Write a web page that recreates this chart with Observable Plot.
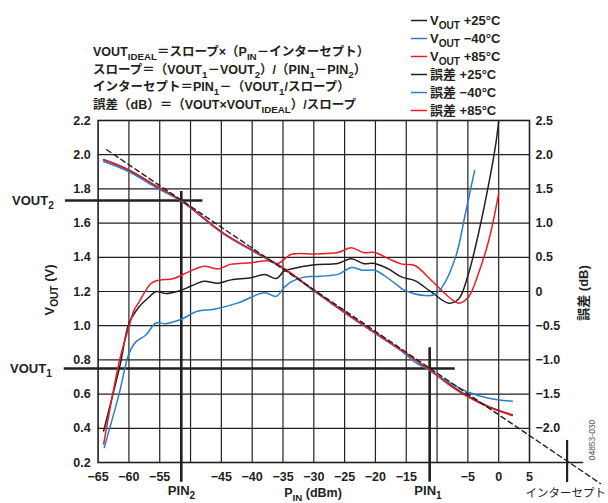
<!DOCTYPE html>
<html><head><meta charset="utf-8">
<script src="https://cdn.jsdelivr.net/npm/d3@7"></script>
<script src="https://cdn.jsdelivr.net/npm/@observablehq/plot@0.6"></script>
<style>
body{margin:0;background:#fff;}
#chart svg{display:block;}
</style>
</head><body><div id="chart"></div>
<script>
// ---- data ----
const xTicks = [-65,-60,-55,-45,-40,-35,-30,-25,-20,-15,-5,0,5];
const xGrid = [-60,-55,-50,-45,-40,-35,-30,-25,-20,-15,-10,-5,0];
const vTicks = [0.2,0.4,0.6,0.8,1.0,1.2,1.4,1.6,1.8,2.0,2.2];
const dBTicks = [2.5,2.0,1.5,1.0,0.5,0,-0.5,-1.0,-1.5,-2.0];
const dBLabels = ["2.5","2.0","1.5","1.0","0.5","0","−0.5","−1.0","−1.5","−2.0"];

// VOUT (left axis, V) : [PIN dBm, V]
const vout25 = [[-64.1,1.97],[-60.3,1.914],[-55.2,1.808],[-51.5,1.731],[-44.6,1.538],[-39.1,1.423],[-34.8,1.333],[-29.9,1.204],[-25,1.078],[-20.6,0.971],[-15.7,0.854],[-11.1,0.738],[-8.1,0.66],[-4.9,0.586],[-1.6,0.527],[2.2,0.479]];
const voutM40 = [[-64.1,1.96],[-60.3,1.905],[-55.2,1.80],[-51.5,1.728],[-44.6,1.535],[-39.1,1.42],[-34.8,1.33],[-29.9,1.20],[-25,1.075],[-20.6,0.968],[-15.7,0.85],[-13.6,0.787],[-11.1,0.738],[-8.1,0.67],[-4.9,0.611],[-1.6,0.576],[2.2,0.558]];
const vout85 = [[-64.1,1.972],[-60.3,1.917],[-55.2,1.81],[-51.5,1.732],[-44.6,1.54],[-39.1,1.424],[-34.8,1.335],[-29.9,1.205],[-25,1.079],[-20.6,0.972],[-15.7,0.855],[-11.1,0.738],[-8.1,0.656],[-4.9,0.582],[-1.6,0.523],[2.2,0.475]];

// Error (right axis, dB) : [PIN dBm, dB]
const err25 = [[-64.1,-2.04],[-61.4,-1.06],[-60,-0.47],[-58.4,-0.23],[-56.7,-0.08],[-55.6,0.0],[-54,-0.03],[-51.6,0.015],[-49.9,0.08],[-47.8,0.15],[-45.6,0.12],[-43.4,0.17],[-40.2,0.2],[-38,0.25],[-36.1,0.19],[-34.8,0.3],[-33.7,0.33],[-29.9,0.39],[-26.1,0.41],[-23.9,0.48],[-22,0.41],[-20.1,0.41],[-17.9,0.33],[-15.7,0.21],[-13.6,0.16],[-10.9,-0.01],[-8.1,-0.17],[-6.5,-0.11],[-4.9,0.26],[-3.3,0.84],[-1.6,1.58],[-0.4,2.2],[0,2.5]];
const errM40 = [[-64,-2.28],[-61.6,-1.5],[-60,-0.91],[-58.9,-0.74],[-57.3,-0.64],[-55.6,-0.46],[-54,-0.47],[-51.6,-0.41],[-48.9,-0.29],[-46.2,-0.26],[-42.4,-0.17],[-38,-0.02],[-36.1,-0.07],[-34.8,0.06],[-33.7,0.14],[-31.6,0.21],[-29.9,0.22],[-26.1,0.25],[-23.9,0.35],[-22,0.31],[-20.1,0.31],[-17.9,0.19],[-15.7,0.04],[-15.2,0.015],[-12,-0.06],[-10.3,-0.04],[-9.2,0.06],[-7.0,0.5],[-5.4,1.14],[-3.9,1.77]];
const err85 = [[-64.1,-2.23],[-61.4,-0.96],[-60,-0.52],[-59.2,-0.28],[-58.4,-0.16],[-56.5,0.11],[-55.4,0.16],[-52.7,0.19],[-50.5,0.28],[-47.8,0.37],[-45.6,0.33],[-43.4,0.40],[-40.2,0.42],[-37.5,0.45],[-35.8,0.41],[-33.7,0.54],[-29.9,0.55],[-26.1,0.57],[-23.9,0.64],[-22,0.57],[-20.1,0.57],[-17.9,0.48],[-15.7,0.40],[-13.6,0.38],[-10.9,0.16],[-8.1,-0.08],[-6.5,-0.17],[-4.9,-0.08],[-3.3,0.26],[-1.6,0.75],[0,1.43]];

// ideal line endpoints and reference construction lines
const ideal = [[-63.6,2.029],[16.5,0.077]];
const pinMarks = [{x:-51.5,y1:0.085,y2:1.785},{x:-11.2,y1:0.085,y2:0.871}];
const voutMarks = [{y:1.732,x1:-70.3,x2:-48},{y:0.75,x1:-70.5,x2:-7.05}];
const interceptMark = [{x:11.1,y1:0.083,y2:0.329}];
const baseExt = [{y:0.2,x1:5,x2:13.8}];

// ---- styles ----
const INK = "#231f20", BLUE = "#2a7fcb", RED = "#ec1c24";
const FONT = "'Liberation Sans', Arial, 'Noto Sans CJK JP', sans-serif";
const dbToV = d => 1.2 + 0.4*d;
const dbLabel = v => { const i = dBTicks.findIndex(d => Math.abs(dbToV(d)-v) < 1e-6); return i < 0 ? "" : dBLabels[i]; };
const fmtX = d => d < 0 ? "−" + (-d) : String(d);
const toObj = a => a.map(([x,y]) => ({x,y}));
const toObjDb = a => a.map(([x,d]) => ({x,y:dbToV(d)}));

const plot = Plot.plot({
  width: 608, height: 503,
  marginLeft: 97.6, marginRight: 79, marginTop: 120, marginBottom: 41,
  style: {fontFamily: FONT, fontSize: "12.5px", fontWeight: "bold", color: INK, background: "#fff"},
  x: {domain: [-65, 5]},
  y: {domain: [0.2, 2.2]},
  marks: [
    Plot.ruleX(xGrid, {stroke: INK, strokeWidth: 1.2}),
    Plot.ruleY(vTicks, {stroke: INK, strokeWidth: 1.2}),
    Plot.frame({stroke: INK, strokeWidth: 1.6}),
    Plot.ruleY(baseExt, {y: "y", x1: "x1", x2: "x2", stroke: INK, strokeWidth: 1.6}),
    Plot.axisX({ticks: xTicks, tickFormat: fmtX, tickSize: 0, tickPadding: 10, label: null}),
    Plot.axisY({ticks: vTicks, tickFormat: d3.format(".1f"), tickSize: 0, tickPadding: 7.5, anchor: "left", label: null}),
    Plot.axisY({ticks: dBTicks.map(dbToV), tickFormat: dbLabel, tickSize: 0, tickPadding: 6, anchor: "right", label: null}),
    // construction lines
    Plot.ruleX(pinMarks, {x: "x", y1: "y1", y2: "y2", stroke: INK, strokeWidth: 2.6}),
    Plot.ruleY(voutMarks, {y: "y", x1: "x1", x2: "x2", stroke: INK, strokeWidth: 2.6}),
    Plot.ruleX(interceptMark, {x: "x", y1: "y1", y2: "y2", stroke: INK, strokeWidth: 2.2}),
    // error curves
    Plot.line(toObjDb(err25), {x: "x", y: "y", stroke: INK, strokeWidth: 1.5, curve: "catmull-rom"}),
    Plot.line(toObjDb(errM40), {x: "x", y: "y", stroke: BLUE, strokeWidth: 1.5, curve: "catmull-rom"}),
    Plot.line(toObjDb(err85), {x: "x", y: "y", stroke: RED, strokeWidth: 1.5, curve: "catmull-rom"}),
    // vout curves
    Plot.line(toObj(vout25), {x: "x", y: "y", stroke: INK, strokeWidth: 1.5, curve: "catmull-rom"}),
    Plot.line(toObj(voutM40), {x: "x", y: "y", stroke: BLUE, strokeWidth: 1.5, curve: "catmull-rom"}),
    Plot.line(toObj(vout85), {x: "x", y: "y", stroke: RED, strokeWidth: 1.5, curve: "catmull-rom"}),
    Plot.line(toObj(ideal), {x: "x", y: "y", stroke: INK, strokeWidth: 1.4, strokeDasharray: "5,3.5"})
  ]
});
document.getElementById("chart").appendChild(plot);

// ---- rich text annotations ----
const svg = d3.select(plot);
function rich(x, y, segs, o = {}) {
  const size = o.size || 12.5;
  const t = svg.append("text").attr("x", x).attr("y", y)
    .attr("font-size", size).attr("font-weight", o.weight || "bold")
    .attr("font-family", FONT).attr("fill", o.fill || INK)
    .attr("text-anchor", o.anchor || "start");
  if (o.rotate) t.attr("transform", `rotate(${o.rotate},${x},${y})`);
  let shifted = 0;
  for (const s of segs) {
    if (typeof s === "string") {
      const ts = t.append("tspan").text(s);
      if (shifted) { ts.attr("dy", -shifted); shifted = 0; }
    } else {
      const d = Math.round(size * 0.3);
      t.append("tspan").text(s.sub).attr("font-size", size * 0.78).attr("dy", d - shifted);
      shifted = d;
    }
  }
  return t;
}
// legend
const legendRows = [
  {c: INK, segs: ["V", {sub: "OUT"}, " +25°C"]},
  {c: BLUE, segs: ["V", {sub: "OUT"}, " −40°C"]},
  {c: RED, segs: ["V", {sub: "OUT"}, " +85°C"]},
  {c: INK, segs: ["誤差 +25°C"]},
  {c: BLUE, segs: ["誤差 −40°C"]},
  {c: RED, segs: ["誤差 +85°C"]}
];
legendRows.forEach((r, i) => {
  const yy = 20.5 + i * 18;
  svg.append("line").attr("x1", 411).attr("x2", 427).attr("y1", yy).attr("y2", yy).attr("stroke", r.c).attr("stroke-width", 1.5);
  rich(430, yy + 4.5, r.segs, {size: 13});
});
// formulas
rich(93, 55.5, ["VOUT", {sub: "IDEAL"}, "＝スロープ×（P", {sub: "IN"}, "－インターセプト）"]);
rich(93, 73.5, ["スロープ＝（VOUT", {sub: "1"}, "－VOUT", {sub: "2"}, "）/（PIN", {sub: "1"}, "－PIN", {sub: "2"}, "）"]);
rich(93, 91, ["インターセプト＝PIN", {sub: "1"}, "－（VOUT", {sub: "1"}, "/スロープ）"]);
rich(93, 108.5, ["誤差（dB）＝（VOUT×VOUT", {sub: "IDEAL"}, "）/スロープ"]);
// axis titles
rich(54, 290, ["V", {sub: "OUT"}, " (V)"], {anchor: "middle", rotate: -90, size: 13});
rich(588, 293, ["誤差 (dB)"], {anchor: "middle", rotate: -90, size: 13});
rich(313, 496.5, ["P", {sub: "IN"}, " (dBm)"], {anchor: "middle", size: 12.5});
// construction labels
rich(181.5, 495, ["PIN", {sub: "2"}], {anchor: "middle", size: 13});
rich(428, 495, ["PIN", {sub: "1"}], {anchor: "middle", size: 13});
rich(12, 205, ["VOUT", {sub: "2"}], {size: 13});
rich(10, 373, ["VOUT", {sub: "1"}], {size: 13});
rich(606, 497, ["インターセプト"], {anchor: "end", size: 11.5, weight: "normal"});
rich(595, 440, ["04853-030"], {anchor: "middle", rotate: -90, size: 8.5, weight: "normal", fill: "#555"});
</script>
</body></html>
